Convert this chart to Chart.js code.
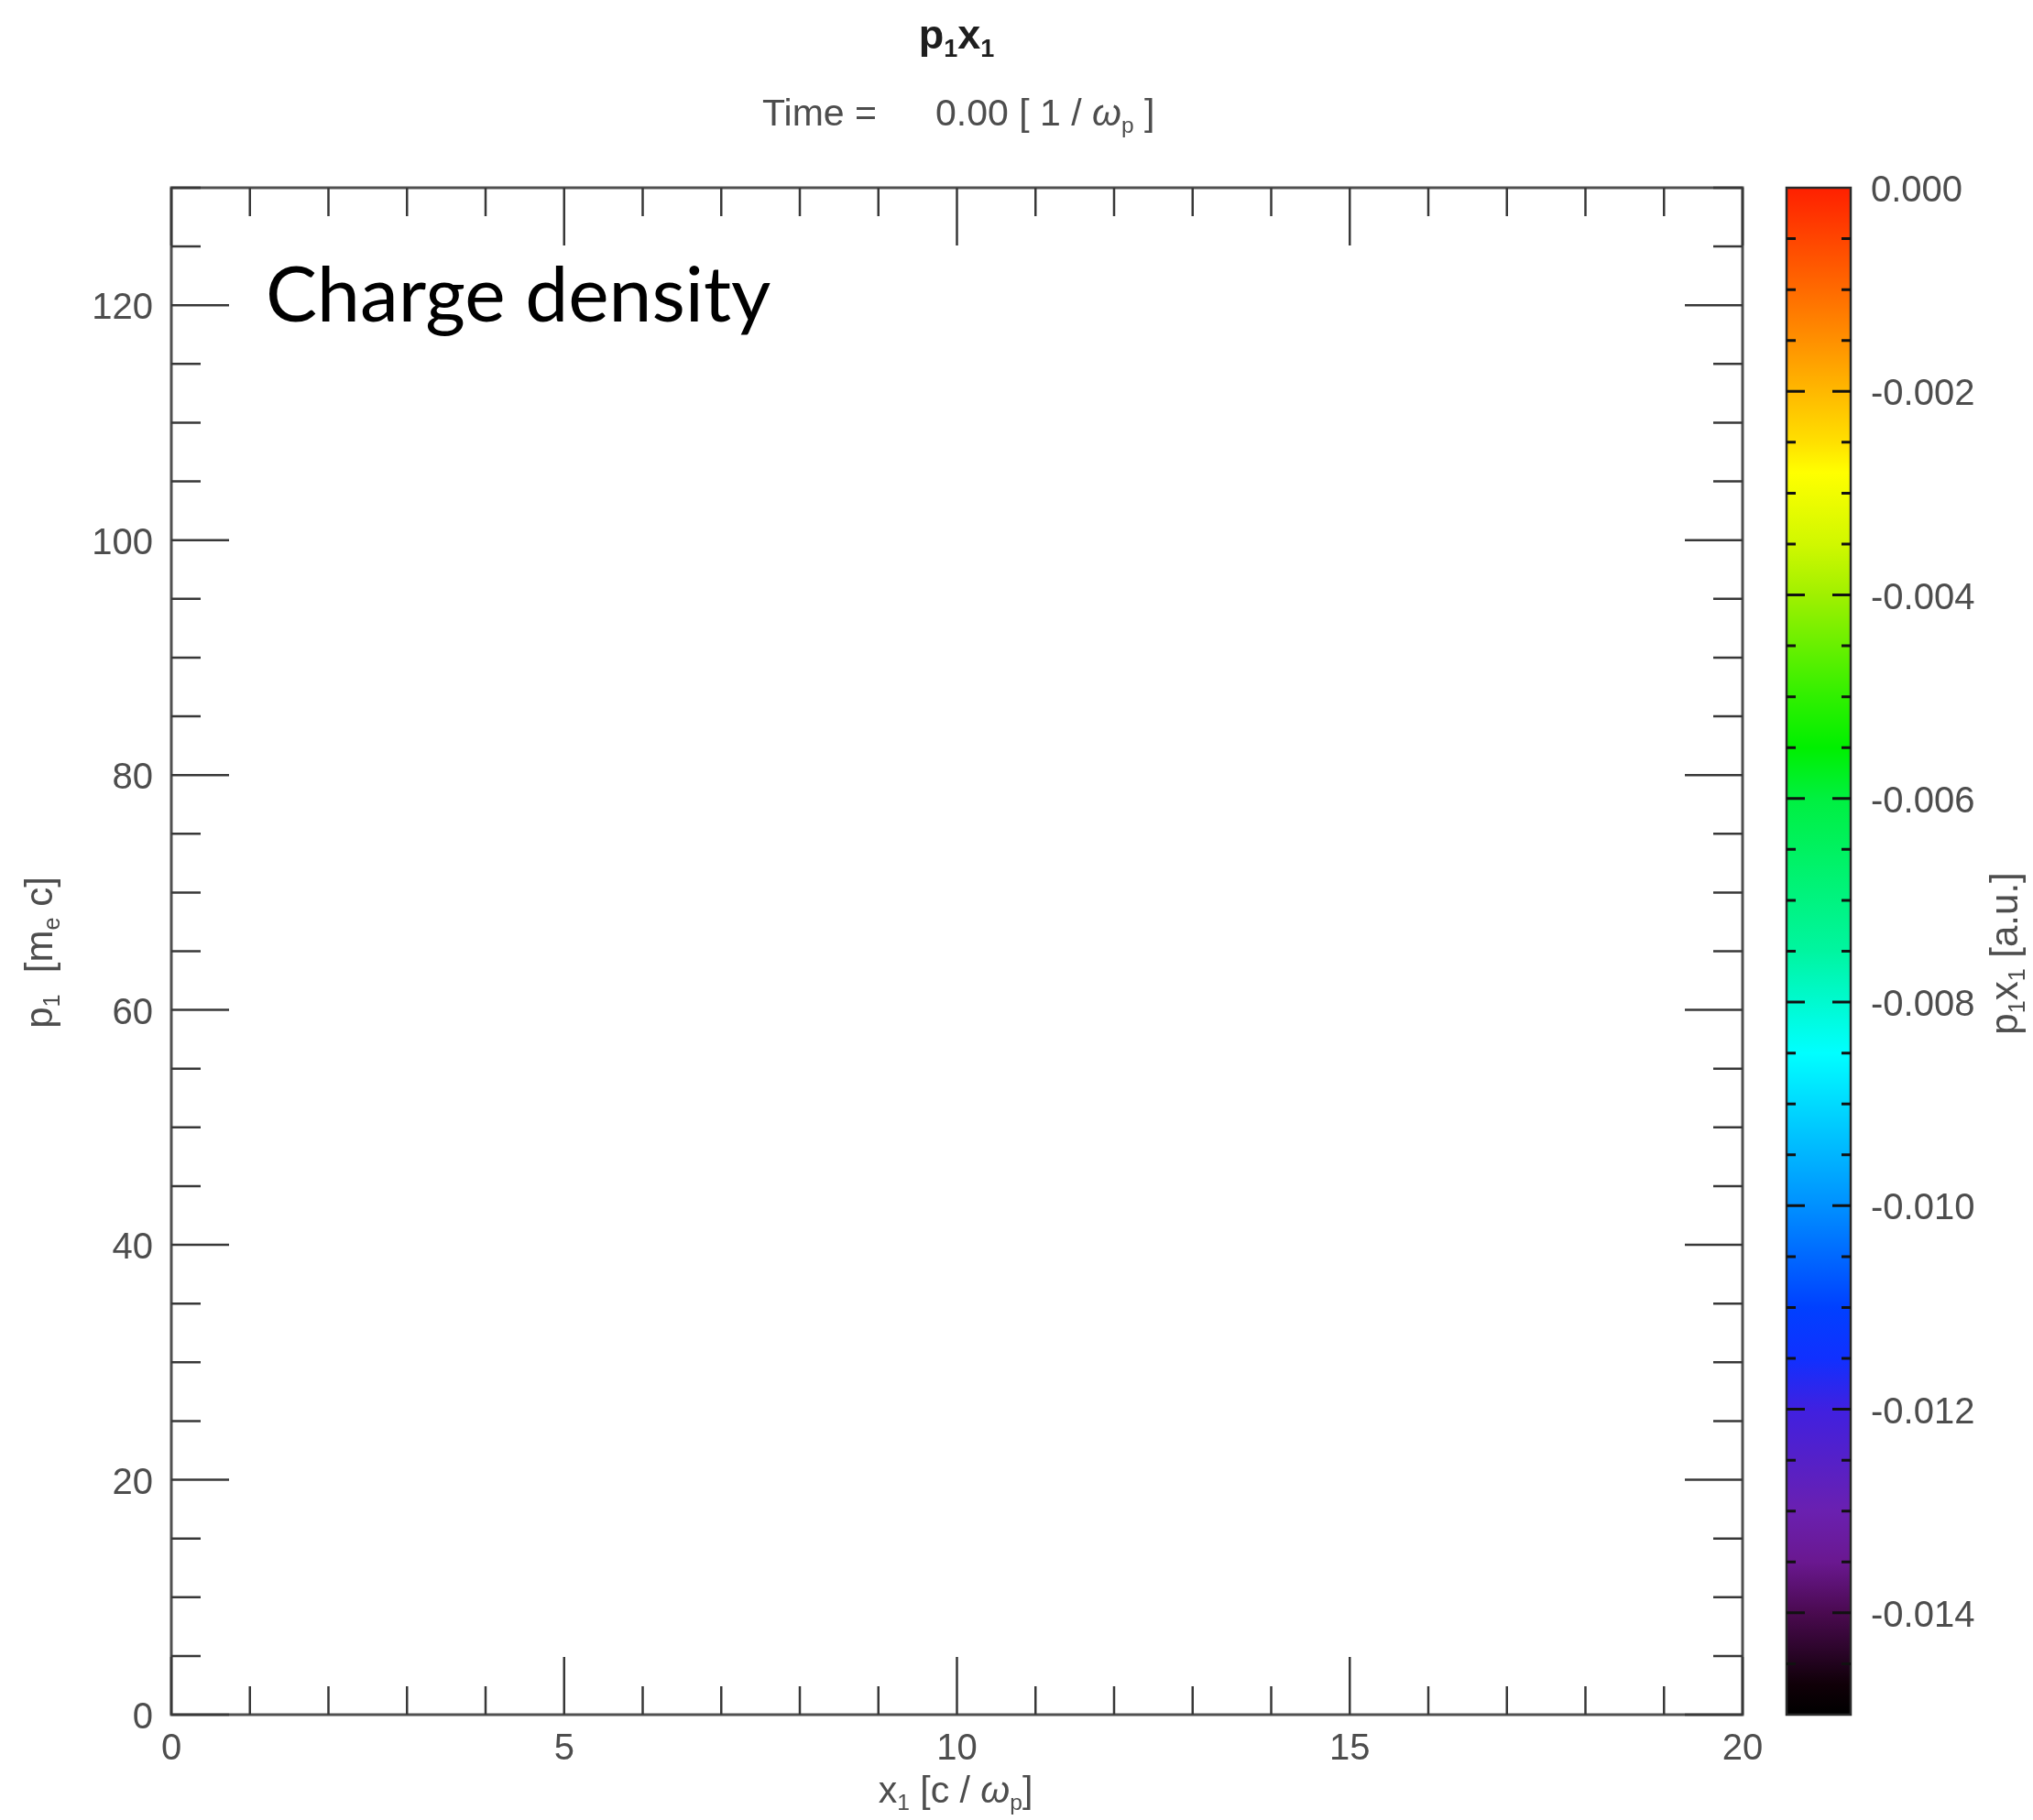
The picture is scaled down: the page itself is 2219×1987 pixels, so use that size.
<!DOCTYPE html>
<html lang="en">
<head>
<meta charset="UTF-8">
<title>p1x1 phase space</title>
<script src="https://cdn.jsdelivr.net/npm/chart.js"></script>
<style>
    body { margin: 0; background: #fff; font-family: "Liberation Sans", Arial, sans-serif; }
    #page { position: relative; width: 2219px; height: 1987px; overflow: hidden; }
    canvas { position: absolute; top: 0; }
    #main { left: 0; }
    #cbar { left: 1940px; }
    .txt { position: absolute; white-space: pre; line-height: 1; color: #4d4d4d; font-size: 41px; }
    .sub { font-size: 0.6em; position: relative; top: 0.32em; }
    .rot { transform: rotate(-90deg); text-align: center; width: 500px; }
</style>
</head>
<body>
<div id="page">
    <canvas id="main" width="1940" height="1987"></canvas>
    <canvas id="cbar" width="279" height="1987"></canvas>

    <!-- titles -->
    <div class="txt" style="left:0; width:2088px; text-align:center; top:15px; font-size:45px; font-weight:bold; color:#1e1e1e;">p<span class="sub">1</span>x<span class="sub">1</span></div>
    <div class="txt" style="left:832px; top:103px;">Time =</div>
    <div class="txt" style="left:1021px; top:103px;">0.00 [ 1 / <i>ω</i><span class="sub">p</span> ]</div>

    <!-- axis titles -->
    <div class="txt" style="left:0; width:2086px; text-align:center; top:1934px;">x<span class="sub">1</span> [c / <i>ω</i><span class="sub">p</span>]</div>
    <div class="txt rot" style="left:-207px; top:1019px; font-size:42px;">p<span class="sub">1</span>  [m<span class="sub">e</span> c]</div>
    <div class="txt rot" style="left:1938px; top:1020px; font-size:42px;">p<span class="sub">1</span>x<span class="sub">1</span> [a.u.]</div>

    <div class="txt" style="left:290px; top:277px; font-family:Lato, sans-serif; font-size:84px; color:#000;">Charge density</div>
</div>

<script>
    // phase space axes
    const xRange = [0, 20];
    const yRange = [0, 130];
    const xTicks = [0, 5, 10, 15, 20];
    const yTicks = [0, 20, 40, 60, 80, 100, 120];
    const xMinorStep = 1;
    const yMinorStep = 5;

    // p1x1 points at t = 0 (nothing in the box yet)
    const p1x1Points = [];

    // colour bar
    const cbRange = [-0.015, 0];
    const cbTicks = [0, -0.002, -0.004, -0.006, -0.008, -0.010, -0.012, -0.014];
    const cbMinorStep = 0.0005;
    const cbStopValues = [0, -0.001, -0.0015, -0.002, -0.0025, -0.0028, -0.0035, -0.004, -0.005, -0.0055, -0.006, -0.0075, -0.0085, -0.010, -0.011, -0.0115, -0.012, -0.013, -0.0135, -0.014, -0.0147, -0.015];
    const cbStopColors = ['#ff2000', '#ff6a00', '#ff9000', '#ffb800', '#ffe000', '#ffff00', '#d0f800', '#a0f000', '#30f000', '#00f000', '#00f040', '#00f5a0', '#00ffff', '#0090ff', '#0040ff', '#1030ff', '#4020e0', '#6a20b0', '#6a1890', '#4a0a50', '#100008', '#000000'];

    const fontFamily = '"Liberation Sans", Arial, sans-serif';
    const labelColor = '#4d4d4d';

    // frame with inward ticks on all four sides
    const frameTicks = {
        id: 'frameTicks',
        afterDraw(chart) {
            const { ctx, chartArea: a, scales: { x, y } } = chart;
            ctx.save();
            ctx.strokeStyle = '#505050';
            ctx.lineWidth = 3;
            ctx.strokeRect(a.left, a.top, a.right - a.left, a.bottom - a.top);
            ctx.beginPath();
            for (let v = xRange[0]; v <= xRange[1]; v += xMinorStep) {
                const px = x.getPixelForValue(v);
                const len = xTicks.includes(v) ? 63 : 31;
                ctx.moveTo(px, a.bottom); ctx.lineTo(px, a.bottom - len);
                ctx.moveTo(px, a.top); ctx.lineTo(px, a.top + len);
            }
            for (let v = yRange[0]; v <= yRange[1]; v += yMinorStep) {
                const py = y.getPixelForValue(v);
                const len = yTicks.includes(v) ? 63 : 32;
                ctx.moveTo(a.left, py); ctx.lineTo(a.left + len, py);
                ctx.moveTo(a.right, py); ctx.lineTo(a.right - len, py);
            }
            ctx.strokeStyle = '#383838';
            ctx.lineWidth = 2.5;
            ctx.stroke();
            ctx.restore();
        }
    };

    new Chart(document.getElementById('main'), {
        type: 'scatter',
        data: { datasets: [{ data: p1x1Points, pointRadius: 1, backgroundColor: '#000' }] },
        options: {
            responsive: false,
            animation: false,
            layout: { padding: { left: 0, top: 205, right: 38, bottom: 0 } },
            plugins: { legend: { display: false }, tooltip: { enabled: false } },
            scales: {
                x: {
                    min: xRange[0], max: xRange[1],
                    grid: { display: false, drawTicks: false }, border: { display: false },
                    afterBuildTicks: s => { s.ticks = xTicks.map(v => ({ value: v })); },
                    afterFit: s => { s.height = 115; },
                    ticks: { font: { size: 40, family: fontFamily }, color: labelColor, padding: 14, maxRotation: 0 }
                },
                y: {
                    min: yRange[0], max: yRange[1],
                    grid: { display: false, drawTicks: false }, border: { display: false },
                    afterBuildTicks: s => { s.ticks = yTicks.map(v => ({ value: v })); },
                    afterFit: s => { s.width = 187; },
                    ticks: { font: { size: 40, family: fontFamily }, color: labelColor, padding: 20, labelOffset: 4 }
                }
            }
        },
        plugins: [frameTicks]
    });

    function cbGradient(chart) {
        const a = chart.chartArea;
        const y = chart.scales.y;
        if (!a || !y) return '#000';
        const top = y.getPixelForValue(cbRange[1]);
        const bottom = y.getPixelForValue(cbRange[0]);
        const g = chart.ctx.createLinearGradient(0, top, 0, bottom);
        cbStopValues.forEach((v, i) => {
            const f = (y.getPixelForValue(v) - top) / (bottom - top);
            g.addColorStop(Math.min(1, Math.max(0, f)), cbStopColors[i]);
        });
        return g;
    }

    // colour bar border and ticks
    const cbFrame = {
        id: 'cbFrame',
        afterDraw(chart) {
            const { ctx, chartArea: a, scales: { y } } = chart;
            ctx.save();
            ctx.strokeStyle = '#2a2a2a';
            ctx.lineWidth = 2.5;
            ctx.strokeRect(a.left, a.top, a.right - a.left, a.bottom - a.top);
            ctx.beginPath();
            const n = Math.round((cbRange[1] - cbRange[0]) / cbMinorStep);
            for (let i = 1; i < n; i++) {
                const v = cbRange[1] - i * cbMinorStep;
                const py = y.getPixelForValue(v);
                const major = cbTicks.some(t => Math.abs(t - v) < 1e-9);
                const len = major ? 20 : 10;
                ctx.moveTo(a.left, py); ctx.lineTo(a.left + len, py);
                ctx.moveTo(a.right, py); ctx.lineTo(a.right - len, py);
            }
            ctx.strokeStyle = '#111';
            ctx.lineWidth = 3;
            ctx.stroke();
            ctx.restore();
        }
    };

    new Chart(document.getElementById('cbar'), {
        type: 'bar',
        data: {
            labels: ['p1x1'],
            datasets: [{
                data: [cbRange],
                backgroundColor: c => cbGradient(c.chart),
                borderWidth: 0,
                barPercentage: 1,
                categoryPercentage: 1
            }]
        },
        options: {
            responsive: false,
            animation: false,
            layout: { padding: { left: 10, top: 205, right: 0, bottom: 115 } },
            plugins: { legend: { display: false }, tooltip: { enabled: false } },
            scales: {
                x: { display: false },
                y: {
                    position: 'right',
                    min: cbRange[0], max: cbRange[1],
                    grid: { display: false, drawTicks: false }, border: { display: false },
                    afterBuildTicks: s => { s.ticks = cbTicks.map(v => ({ value: v })); },
                    afterFit: s => { s.width = 199; },
                    ticks: {
                        font: { size: 40, family: fontFamily }, color: labelColor, padding: 22, labelOffset: 4,
                        callback: v => v.toFixed(3)
                    }
                }
            }
        },
        plugins: [cbFrame]
    });
</script>
</body>
</html>
